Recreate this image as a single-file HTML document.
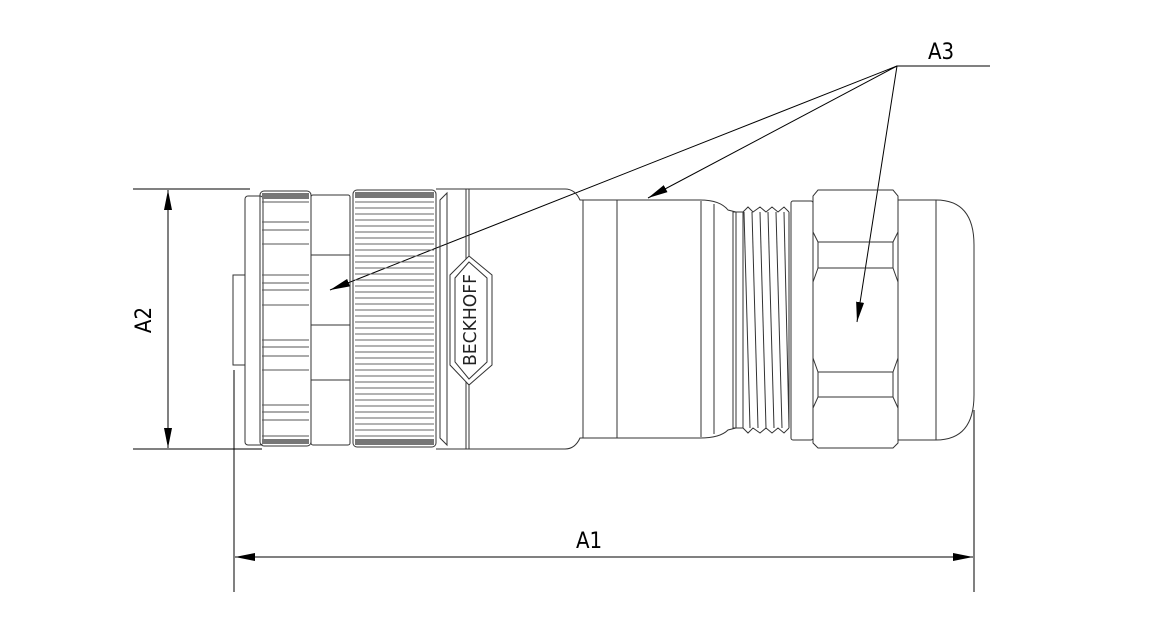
<!DOCTYPE html>
<html><head><meta charset="utf-8"><style>
html,body{margin:0;padding:0;background:#fff;}
svg{display:block}
text{font-family:"DejaVu Sans Condensed","Liberation Sans Narrow","Liberation Sans",sans-serif;}
</style></head><body>
<svg width="1160" height="633" viewBox="0 0 1160 633" xmlns="http://www.w3.org/2000/svg">
<defs>
<marker id="ar" viewBox="0 0 20 8" refX="20" refY="4" markerWidth="20" markerHeight="8" markerUnits="userSpaceOnUse" orient="auto-start-reverse"><path d="M0,0 L20,4 L0,8 z" fill="#000"/></marker>
</defs>
<g stroke="#000" stroke-width="1" fill="none">
<line x1="133" y1="189" x2="250" y2="189"/>
<line x1="133" y1="449" x2="262" y2="449"/>
<line x1="168" y1="190" x2="168" y2="448" marker-start="url(#ar)" marker-end="url(#ar)"/>
<line x1="234" y1="370" x2="234" y2="592"/>
<line x1="974" y1="410" x2="974" y2="592"/>
<line x1="235" y1="557" x2="973" y2="557" marker-start="url(#ar)" marker-end="url(#ar)"/>
<line x1="897" y1="66" x2="990" y2="66"/>
<line x1="897" y1="66" x2="330" y2="290" marker-end="url(#ar)"/>
<line x1="897" y1="66" x2="648" y2="198" marker-end="url(#ar)"/>
<line x1="897" y1="66" x2="857" y2="322" marker-end="url(#ar)"/>
</g>
<g stroke="#333" stroke-width="1" fill="none">
<rect x="233" y="275" width="12" height="90"/>
<rect x="245" y="196" width="18" height="249" rx="3"/>
<rect x="260" y="191" width="51" height="255" rx="4"/>
<g stroke="#555">
<line x1="262" y1="202" x2="309" y2="202"/><line x1="262" y1="222" x2="309" y2="222"/>
<line x1="262" y1="230" x2="309" y2="230"/><line x1="262" y1="244" x2="309" y2="244"/>
<line x1="262" y1="275" x2="309" y2="275"/><line x1="262" y1="283" x2="309" y2="283"/>
<line x1="262" y1="290" x2="309" y2="290"/><line x1="262" y1="305" x2="309" y2="305"/>
<line x1="262" y1="340" x2="309" y2="340"/><line x1="262" y1="347" x2="309" y2="347"/>
<line x1="262" y1="356" x2="309" y2="356"/><line x1="262" y1="370" x2="309" y2="370"/>
<line x1="262" y1="405" x2="309" y2="405"/><line x1="262" y1="412" x2="309" y2="412"/>
<line x1="262" y1="420" x2="309" y2="420"/><line x1="262" y1="436" x2="309" y2="436"/>
</g>
<rect x="262" y="193" width="47" height="6" fill="#777" stroke="none"/>
<rect x="262" y="439" width="47" height="5" fill="#777" stroke="none"/>
<rect x="311" y="195" width="39" height="250" rx="2"/>
<line x1="311" y1="255" x2="350" y2="255"/><line x1="311" y1="325" x2="350" y2="325"/><line x1="311" y1="380" x2="350" y2="380"/>
<rect x="353" y="190" width="83" height="257" rx="4"/>
<rect x="355" y="192" width="79" height="6" fill="#777" stroke="none"/>
<rect x="355" y="439" width="79" height="6" fill="#777" stroke="none"/>
</g>
<g stroke="#666" stroke-width="1">
<line x1="355" y1="202" x2="434" y2="202"/><line x1="355" y1="208" x2="434" y2="208"/><line x1="355" y1="214" x2="434" y2="214"/><line x1="355" y1="220" x2="434" y2="220"/><line x1="355" y1="226" x2="434" y2="226"/><line x1="355" y1="232" x2="434" y2="232"/><line x1="355" y1="238" x2="434" y2="238"/><line x1="355" y1="244" x2="434" y2="244"/><line x1="355" y1="250" x2="434" y2="250"/><line x1="355" y1="256" x2="434" y2="256"/><line x1="355" y1="262" x2="434" y2="262"/><line x1="355" y1="268" x2="434" y2="268"/><line x1="355" y1="274" x2="434" y2="274"/><line x1="355" y1="280" x2="434" y2="280"/><line x1="355" y1="286" x2="434" y2="286"/><line x1="355" y1="292" x2="434" y2="292"/><line x1="355" y1="298" x2="434" y2="298"/><line x1="355" y1="304" x2="434" y2="304"/><line x1="355" y1="310" x2="434" y2="310"/><line x1="355" y1="316" x2="434" y2="316"/><line x1="355" y1="322" x2="434" y2="322"/><line x1="355" y1="328" x2="434" y2="328"/><line x1="355" y1="334" x2="434" y2="334"/><line x1="355" y1="340" x2="434" y2="340"/><line x1="355" y1="346" x2="434" y2="346"/><line x1="355" y1="352" x2="434" y2="352"/><line x1="355" y1="358" x2="434" y2="358"/><line x1="355" y1="364" x2="434" y2="364"/><line x1="355" y1="370" x2="434" y2="370"/><line x1="355" y1="376" x2="434" y2="376"/><line x1="355" y1="382" x2="434" y2="382"/><line x1="355" y1="388" x2="434" y2="388"/><line x1="355" y1="394" x2="434" y2="394"/><line x1="355" y1="400" x2="434" y2="400"/><line x1="355" y1="406" x2="434" y2="406"/><line x1="355" y1="412" x2="434" y2="412"/><line x1="355" y1="418" x2="434" y2="418"/><line x1="355" y1="424" x2="434" y2="424"/><line x1="355" y1="430" x2="434" y2="430"/><line x1="355" y1="436" x2="434" y2="436"/>
</g>
<g stroke="#333" stroke-width="1" fill="none">
<path d="M436,189 L565,189 Q575,189 580,200 L700,200 Q720,200 728,210 L736,212 L736,428 L728,430 Q720,438 700,438 L580,438 Q575,449 565,449 L436,449"/>
<line x1="436" y1="200" x2="436" y2="440"/>
<path d="M440,200 L447,193 L447,445 L440,438 Z"/>
<line x1="466" y1="189" x2="466" y2="449"/><line x1="469" y1="189" x2="469" y2="449"/>
<polygon points="469,256 492,275 492,365 469,385 450,365 450,275" fill="#fff"/>
<polygon points="469,262 487,278 487,362 469,379 455,362 455,278"/>
<line x1="583" y1="200" x2="583" y2="438"/><line x1="617" y1="200" x2="617" y2="438"/>
<line x1="701" y1="201" x2="701" y2="437"/><line x1="714" y1="204" x2="714" y2="434"/>
<rect x="733" y="212" width="10" height="216"/>
<path d="M743,212 L748,207 L753,212 L760,207 L766,212 L772,207 L778,212 L784,207 L789,212"/>
<path d="M743,428 L748,433 L753,428 L760,433 L766,428 L772,433 L778,428 L784,433 L789,428"/>
<line x1="744" y1="212" x2="750" y2="428"/><line x1="752" y1="212" x2="758" y2="428"/>
<line x1="760" y1="212" x2="766" y2="428"/><line x1="768" y1="212" x2="774" y2="428"/>
<line x1="776" y1="212" x2="782" y2="428"/><line x1="784" y1="212" x2="789" y2="428"/>
<line x1="789" y1="212" x2="789" y2="428"/>
<rect x="791" y="201" width="22" height="239" rx="2"/>
<path d="M818,190 L893,190 L898,196 L898,443 L893,448 L818,448 L813,443 L813,196 Z"/>
<path d="M813,232 L818,242 L893,242 L898,232"/>
<line x1="818" y1="242" x2="818" y2="268"/><line x1="893" y1="242" x2="893" y2="268"/>
<path d="M818,268 L893,268 L898,282 M818,268 L813,282"/>
<path d="M813,358 L818,372 L893,372 L898,358"/>
<line x1="818" y1="372" x2="818" y2="397"/><line x1="893" y1="372" x2="893" y2="397"/>
<path d="M813,408 L818,397 L893,397 L898,408"/>
<path d="M898,200 L936,200 Q974,200 974,245 L974,395 Q974,440 936,440 L898,440"/>
<line x1="936" y1="200" x2="936" y2="440"/>
</g>
<text x="470" y="326" font-size="18" text-anchor="middle" textLength="92" lengthAdjust="spacingAndGlyphs" transform="rotate(-90 470 320)" fill="#222">BECKHOFF</text>
<text x="941" y="59" font-size="22" text-anchor="middle" fill="#000">A3</text>
<text x="589" y="548" font-size="22" text-anchor="middle" fill="#000">A1</text>
<text x="158" y="327" font-size="22" text-anchor="middle" transform="rotate(-90 151 327)" fill="#000">A2</text>
</svg>
</body></html>
